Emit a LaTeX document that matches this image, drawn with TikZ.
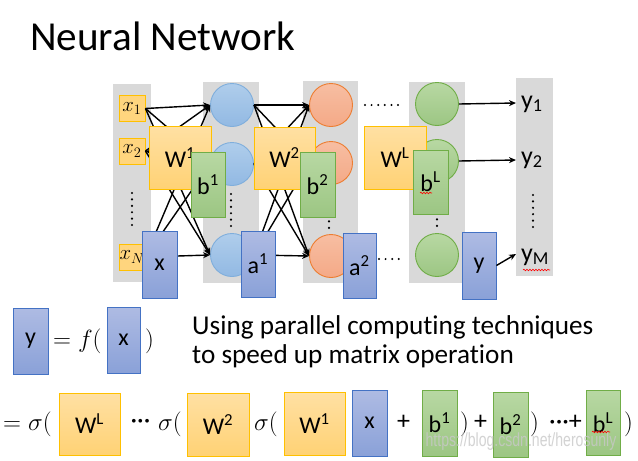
\documentclass[tikz,border=0pt]{standalone}
\usepackage{fontspec}
\usepackage{graphicx}
\setmainfont{Carlito}[Ligatures=NoCommon]
\newfontfamily\wmfont{Liberation Sans}
\usetikzlibrary{arrows.meta,decorations.pathmorphing}
\definecolor{colbg}{HTML}{D9D9D9}
\definecolor{yelB}{HTML}{FFC000}
\definecolor{yelT}{HTML}{FFE0A3}
\definecolor{yelD}{HTML}{FFD275}
\definecolor{grnB}{HTML}{70AD47}
\definecolor{grnT}{HTML}{B8D8A3}
\definecolor{grnD}{HTML}{9CC683}
\definecolor{bluB}{HTML}{4472C4}
\definecolor{bluT}{HTML}{AEBBE3}
\definecolor{bluD}{HTML}{8AA1D8}
\definecolor{cbB}{HTML}{7FAEDC}
\definecolor{cbT}{HTML}{AFCDEB}
\definecolor{cbD}{HTML}{92B9E3}
\definecolor{coB}{HTML}{ED7D31}
\definecolor{coT}{HTML}{F7BEA2}
\definecolor{coD}{HTML}{F4A987}
\definecolor{wm}{HTML}{C8C8C8}
\newcommand{\mydots}{\textperiodcentered\textperiodcentered\textperiodcentered}
\tikzset{
  box/.style={rectangle, line width=0.9pt, inner sep=0pt, font=\fontsize{24}{24}\selectfont},
  wbox/.style={box, draw=yelB, top color=yelT, bottom color=yelD},
  bbox/.style={box, draw=grnB, top color=grnT, bottom color=grnD},
  vbox/.style={box, draw=bluB, top color=bluT, bottom color=bluD},
  sz/.style 2 args={minimum width=#1pt, minimum height=#2pt},
  inbox/.style={rectangle, draw=yelB, line width=0.9pt, fill=yelD!80!yelT, inner sep=0pt, minimum width=26pt, minimum height=26pt, font=\fontsize{22}{22}\selectfont},
  neuron/.style={circle, line width=0.9pt, inner sep=0pt, minimum size=43pt},
  nb/.style={neuron, draw=cbB, top color=cbT, bottom color=cbD},
  no/.style={neuron, draw=coB, top color=coT, bottom color=coD},
  ng/.style={neuron, draw=grnB, top color=grnT, bottom color=grnD},
  arr/.style={line width=1.4pt, -{Stealth[length=7pt,width=6pt]}},
  outlab/.style={anchor=west, inner sep=0pt, font=\fontsize{26}{26}\selectfont},
  vdots/.style={line width=2.4pt, line cap=round, dash pattern=on 0pt off 6.4pt},
  hdots/.style={line width=2.2pt, line cap=round, dash pattern=on 0pt off 6.6pt},
  txt/.style={inner sep=0pt, font=\fontsize{28}{28}\selectfont},
  dtxt/.style={inner sep=0pt, font=\fontsize{26}{26}\selectfont},
  squig/.style={red, line width=0.6pt, decorate, decoration={snake, segment length=3pt, amplitude=0.8pt}}
}
\begin{document}
\begin{tikzpicture}[x=1pt,y=-1pt]
\useasboundingbox (0,0) rectangle (638,461);
\fill[white] (0,0) rectangle (638,461);
% title
\node[anchor=base west, inner sep=0pt, font=\fontsize{41.2}{41.2}\selectfont] (title) at (30,50) {Neural Network};
% columns
\fill[colbg] (113,84) rectangle (151,282);
\fill[colbg] (203,82) rectangle (259,283);
\fill[colbg] (303,81) rectangle (358,283);
\fill[colbg] (409,82) rectangle (465,283);
\fill[colbg] (516,78) rectangle (553,276);
% dots
\draw[vdots] (132,193) -- (132,226);
\draw[vdots] (231,194) -- (231,227);
\draw[vdots] (329,215) -- (329,228);
\draw[vdots] (437,213) -- (437,226);
\draw[vdots] (533,195) -- (533,228);
\draw[hdots] (365,105) -- (399,105);
\draw[hdots] (379,259) -- (401,259);
% inputs
\node[inbox] (in1) at (132,108.5) {$x_1$};
\node[inbox] (in2) at (132,151) {$x_2$};
\node[inbox] (in3) at (132,257) {$x_N$};
% neurons
\node[nb] (c1) at (232,105) {};
\node[nb] (c2) at (232,164) {};
\node[nb] (c3) at (232,255) {};
\node[no] (o1) at (331,105) {};
\node[no] (o2) at (331,163) {};
\node[no] (o3) at (331,256) {};
\node[ng] (g1) at (437,104) {};
\node[ng] (g2) at (437,161) {};
\node[ng] (g3) at (437,255) {};
% connections
\foreach \i/\j in {1/1,1/2,1/3,2/1,2/3,3/1,3/2,3/3}
  \draw[arr] (in\i.east) -- (c\j.west);
\draw[arr] (c2.west) -- (in2.east);
\foreach \i/\j in {1/1,1/2,1/3,2/1,2/3,3/1,3/2,3/3}
  \draw[arr] (c\i.east) -- (o\j.west);
\draw[arr] (o2.west) -- (c2.east);
% outputs
\node[outlab] (y1) at (521,104) {y\textsubscript{1}};
\node[outlab] (y2) at (521,160) {y\textsubscript{2}};
\node[outlab] (yM) at (521,257) {y\textsubscript{M}};
\coordinate (e1) at (516,103);
\coordinate (e2) at (516,160);
\coordinate (e3) at (516,254);
\draw[arr] (g1.east) -- (e1);
\draw[arr] (g2.east) -- (e2);
% boxes
\node[wbox, sz={62}{63}] (W1) at (180,157.5) {W\textsuperscript{1}};
\node[bbox, sz={34}{65}] (b1) at (208,184.5) {b\textsuperscript{1}};
\node[vbox, sz={35}{67}] (xv) at (159.5,264.5) {x};
\node[wbox, sz={61}{62}] (W2) at (284.5,158) {W\textsuperscript{2}};
\node[bbox, sz={35}{65}] (b2) at (317.5,184.5) {b\textsuperscript{2}};
\node[vbox, sz={34}{66}] (a1) at (258,264) {a\textsuperscript{1}};
\node[vbox, sz={33}{65}] (a2) at (359.5,265.5) {a\textsuperscript{2}};
\node[wbox, sz={62}{63}] (WL) at (395,157.5) {W\textsuperscript{L}};
\node[bbox, sz={35}{64}] (bL) at (430.5,182) {b\textsuperscript{L}};
\node[vbox, sz={34}{67}] (yv) at (479,265.5) {y};
\draw[arr] (yv.east) -- (e3);
\draw[squig] (420,193) -- (432,193);
\draw[squig] (523,270) -- (550,270);
% y = f(x)
\node[vbox, sz={35}{66}] (yb) at (30.5,341) {y};
\node[txt, anchor=west] (eqf) at (53,341) {$=f($};
\node[vbox, sz={33}{66}] (xb) at (123.5,340) {x};
\node[txt, anchor=west] (eqc) at (145,341) {$)$};
\node[anchor=base west, inner sep=0pt, font=\fontsize{27.2}{27.2}\selectfont] (desc1) at (192,334) {Using parallel computing techniques};
\node[anchor=base west, inner sep=0pt, font=\fontsize{27.2}{27.2}\selectfont] (desc2) at (192,363) {to speed up matrix operation};
% big equation
\node[txt, anchor=west] (q1) at (3,424) {$=\sigma($};
\node[wbox, sz={61}{62}] (WLb) at (89.5,424) {W\textsuperscript{L}};
\node[dtxt] (q2a) at (140.5,424) {\mydots};
\node[txt, anchor=west] (q2) at (158,424) {$\sigma($};
\node[wbox, sz={62}{63}] (W2b) at (218,424.5) {W\textsuperscript{2}};
\node[txt, anchor=west] (q3) at (254,424) {$\sigma($};
\node[wbox, sz={61}{63}] (W1b) at (314.5,423.5) {W\textsuperscript{1}};
\node[vbox, sz={35}{66}] (xb2) at (369.5,423) {x};
\node[dtxt] (q4) at (403.5,422) {+};
\node[bbox, sz={35}{66}] (b1b) at (439.5,423) {b\textsuperscript{1}};
\node[txt, anchor=west] (q5) at (460,424) {$)$};
\node[dtxt] (q5p) at (480.5,422) {+};
\node[bbox, sz={35}{65}] (b2b) at (510.5,424.5) {b\textsuperscript{2}};
\node[txt, anchor=west] (q6) at (530,424) {$)$};
\node[dtxt, anchor=west] (q7) at (549,422) {\mydots+};
\node[bbox, sz={34}{65}] (bLb) at (603,422.5) {b\textsuperscript{L}};
\node[txt, anchor=west] (q8) at (624,424) {$)$};
\draw[squig] (592,432) -- (610,432);
% watermark
\node[font=\wmfont\fontsize{19}{19}\selectfont, text=wm, opacity=0.8, inner sep=0pt] (wmk) at (521,442) {\scalebox{0.74}[1]{https://blog.csdn.net/herosunly}};
\end{tikzpicture}
\end{document}
